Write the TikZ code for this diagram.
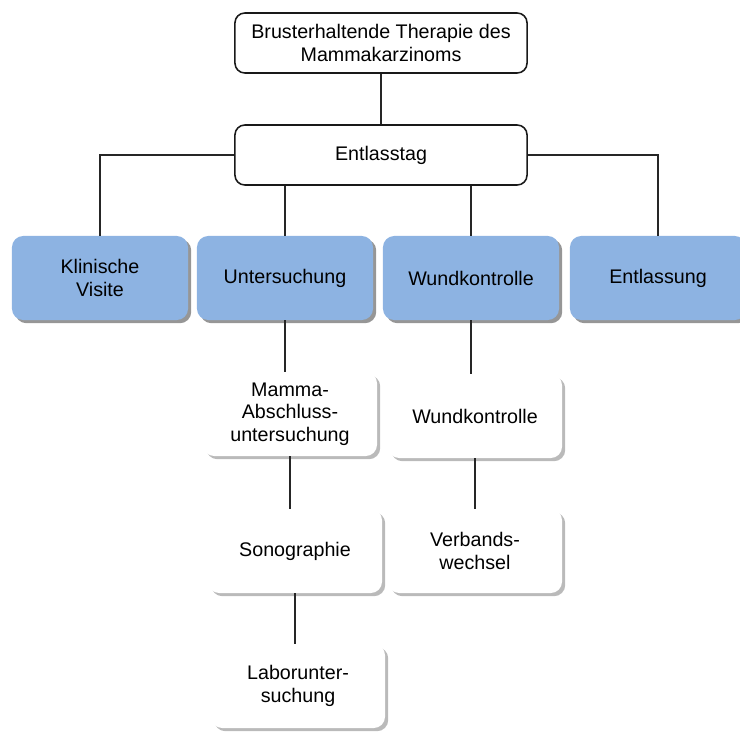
\documentclass[tikz,border=0pt]{standalone}
\usepackage{fontspec}
\setmainfont{Liberation Sans}
\usetikzlibrary{shadows}
\definecolor{phaseblue}{RGB}{141,179,226}
\tikzset{
  root/.style={rectangle, rounded corners=7pt, draw=black!90, line width=1.1pt,
    fill=white, align=center, minimum width=7.3cm, minimum height=1.5cm},
  card/.style={rectangle, rounded corners=8pt, align=center, inner sep=2pt,
    minimum width=4.4cm, minimum height=2.1cm},
  phase/.style={card, fill=phaseblue,
    drop shadow={shadow xshift=0.08cm, shadow yshift=-0.08cm, fill=black!75, opacity=0.55}},
  task/.style={card, fill=white, minimum width=4.35cm,
    drop shadow={shadow xshift=0.08cm, shadow yshift=-0.08cm, fill=black!60, opacity=0.45}},
  link/.style={line width=1.2pt, draw=black!85},
}

\begin{document}
\begin{tikzpicture}[x=0.025cm, y=-0.025cm, font=\fontsize{14}{16}\selectfont]
  \useasboundingbox (0,0) rectangle (740,731);
  % top levels
  \node[root] (thr) at (381,43) {Brusterhaltende Therapie des\\Mammakarzinoms};
  \node[root] (tag) at (381,155) {Entlasstag};
  % phases of the discharge day
  \node[phase] (kv) at (100,278) {Klinische\\Visite};
  \node[phase] (us) at (285,278) {Untersuchung};
  \node[phase] (wk) at (471,278) {Wundkontrolle};
  \node[phase] (ea) at (658,278) {Entlassung};
  % single tasks
  \node[task] (mam) at (290,414) {Mamma-\\Abschluss-\\untersuchung};
  \node[task] (sono) at (295,551) {Sonographie};
  \node[task] (labor) at (298,686) {Laborunter-\\suchung};
  \node[task] (wkk) at (475,416) {Wundkontrolle};
  \node[task] (verb) at (475,551) {Verbands-\\wechsel};

  \draw[link] (thr) -- (tag);
  \draw[link] (tag.west) -| (kv.north);
  \draw[link] (tag.east) -| (ea.north);
  \draw[link] (us.north) -- (us.north |- tag.south);
  \draw[link] (wk.north) -- (wk.north |- tag.south);
  \draw[link] (us.south) -- (us.south |- mam.north);
  \draw[link] (mam.south) -- (mam.south |- sono.north);
  \draw[link] (sono.south) -- (sono.south |- labor.north);
  \draw[link] (wk.south) -- (wk.south |- wkk.north);
  \draw[link] (wkk.south) -- (wkk.south |- verb.north);
\end{tikzpicture}
\end{document}
